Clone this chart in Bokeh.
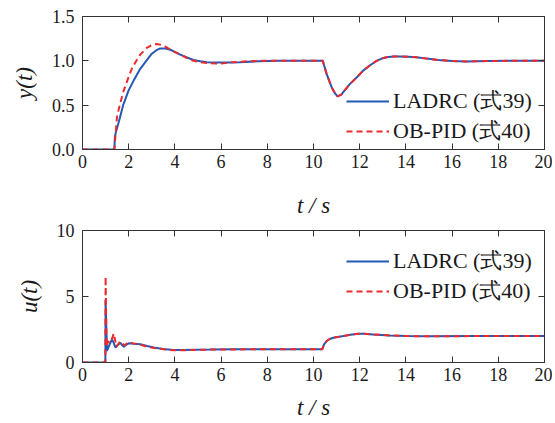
from bokeh.plotting import figure
from bokeh.models import Range1d, LinearAxis, FixedTicker, PrintfTickFormatter, Legend, LegendItem
from bokeh.layouts import column
from bokeh.embed import file_html
from bokeh.resources import INLINE

# ---------------- data ----------------
x_ticks = [0, 2, 4, 6, 8, 10, 12, 14, 16, 18, 20]
y_ticks_top = [0.0, 0.5, 1.0, 1.5]
y_ticks_bot = [0, 5, 10]

t_y_ladrc = [0, 1.38, 1.40, 1.45, 1.57, 1.76, 2.0, 2.22, 2.5, 2.76, 3.0, 3.2, 3.37, 3.6,
             3.8, 4.0, 4.23, 4.5, 4.8, 5.1, 5.38, 5.7, 5.96, 6.4, 6.8, 7.6, 8.5, 10.0,
             10.4, 10.57, 10.79, 10.94, 11.04, 11.2, 11.58, 11.9, 12.15, 12.45, 12.73,
             13.0, 13.16, 13.45, 13.74, 14.1, 14.46, 14.9, 15.4, 16.0, 16.6, 17.5, 18.5, 20]
y_ladrc = [0, 0, 0.14, 0.2, 0.31, 0.5, 0.67, 0.78, 0.91, 1.0, 1.08, 1.12, 1.14, 1.14,
           1.125, 1.10, 1.07, 1.04, 1.01, 0.995, 0.985, 0.98, 0.98, 0.982, 0.985, 0.995, 1.0, 1.0,
           1.0, 0.85, 0.70, 0.63, 0.60, 0.62, 0.74, 0.82, 0.89, 0.95, 1.0,
           1.03, 1.04, 1.048, 1.05, 1.047, 1.04, 1.025, 1.01, 0.997, 0.993, 0.997, 1.0, 1.0]

t_y_obpid = [0, 1.38, 1.40, 1.49, 1.61, 1.79, 2.0, 2.15, 2.33, 2.5, 2.65, 2.8, 2.94, 3.1,
             3.22, 3.4, 3.66, 3.9, 4.23, 4.5, 4.8, 5.1, 5.38, 5.8, 6.1, 6.5, 7.0, 7.6, 8.5,
             10.0, 10.4, 10.57, 10.79, 10.94, 11.04, 11.2, 11.58, 11.9, 12.15, 12.45, 12.73,
             13.0, 13.16, 13.45, 13.74, 14.1, 14.46, 14.9, 15.4, 16.0, 16.6, 17.5, 18.5, 20]
y_obpid = [0, 0, 0.07, 0.36, 0.5, 0.67, 0.82, 0.92, 1.0, 1.07, 1.11, 1.15, 1.17, 1.185,
           1.19, 1.18, 1.15, 1.11, 1.07, 1.035, 1.0, 0.985, 0.975, 0.97, 0.972, 0.985, 0.993, 1.0, 1.0,
           1.0, 1.0, 0.85, 0.70, 0.63, 0.60, 0.62, 0.74, 0.82, 0.89, 0.95, 1.0,
           1.03, 1.04, 1.048, 1.05, 1.047, 1.04, 1.025, 1.01, 0.997, 0.993, 0.997, 1.0, 1.0]

t_u_ladrc = [0, 0.99, 1.0, 1.06, 1.18, 1.28, 1.36, 1.43, 1.54, 1.64, 1.72, 1.79, 1.9, 2.0,
             2.2, 2.5, 2.8, 3.08, 3.5, 3.94, 4.4, 4.8, 5.5, 6.5, 8.0, 10.38, 10.45, 10.57,
             10.7, 10.86, 11.29, 11.6, 11.94, 12.2, 12.58, 13.3, 14.03, 15.0, 17.0, 20]
u_ladrc = [0, 0, 4.7, 0.88, 1.4, 1.75, 1.45, 1.13, 1.35, 1.5, 1.3, 1.2, 1.35, 1.45,
           1.42, 1.38, 1.25, 1.13, 1.02, 0.95, 0.95, 0.97, 0.98, 1.0, 1.0, 1.0, 1.35, 1.63,
           1.78, 1.88, 2.0, 2.1, 2.18, 2.18, 2.13, 2.05, 2.0, 1.99, 2.0, 2.0]

t_u_obpid = [0, 0.99, 1.0, 1.04, 1.1, 1.2, 1.3, 1.35, 1.4, 1.47, 1.55, 1.64, 1.72, 1.83,
             1.92, 2.0, 2.2, 2.5, 2.8, 3.1, 3.5, 3.94, 4.4, 5.0, 6.0, 8.0, 10.38, 10.45, 10.57,
             10.7, 10.86, 11.29, 11.6, 11.94, 12.2, 12.58, 13.3, 14.03, 15.0, 17.0, 20]
u_obpid = [0, 0, 6.5, 1.2, 1.6, 1.5, 1.9, 2.2, 1.8, 1.2, 1.4, 1.6, 1.45, 1.3,
           1.45, 1.55, 1.45, 1.35, 1.2, 1.1, 1.0, 0.93, 0.93, 0.96, 0.99, 1.0, 1.0, 1.35, 1.63,
           1.78, 1.88, 2.0, 2.1, 2.18, 2.18, 2.13, 2.05, 2.0, 1.99, 2.0, 2.0]

labels = ["LADRC (式39)", "OB-PID (式40)"]
x_title = "t / s"

# ---------------- styling ----------------
FONT = "Liberation Serif"
BLUE = "#2458b5"
RED = "#ec2a2e"
AX = "#333333"
TXT = "#1a1a1a"


def style_axis(ax, ticks, show_labels, fmt=None):
    ax.ticker = FixedTicker(ticks=ticks)
    ax.axis_line_color = AX
    ax.axis_line_width = 1
    ax.major_tick_line_color = AX
    ax.major_tick_in = 6
    ax.major_tick_out = 0
    ax.minor_tick_line_color = None
    if fmt is not None:
        ax.formatter = fmt
    if show_labels:
        ax.major_label_text_font = FONT
        ax.major_label_text_font_size = "18px"
        ax.major_label_text_color = TXT
    else:
        ax.major_label_text_font_size = "1px"
        ax.major_label_text_color = None
        ax.major_label_standoff = 0


def make_fig(height, y_end, yticks, btop, bbot, ylabel, fmt, xstandoff):
    p = figure(width=552, height=height, x_range=Range1d(0, 20), y_range=Range1d(0, y_end),
               output_backend="svg", toolbar_location=None,
               min_border_left=82, min_border_right=8, min_border_top=btop, min_border_bottom=bbot)
    p.grid.visible = False
    p.outline_line_color = AX
    p.background_fill_color = "white"
    xa = p.xaxis[0]
    style_axis(xa, x_ticks, True)
    xa.major_label_standoff = 5
    xa.axis_label = x_title
    xa.axis_label_text_font = FONT
    xa.axis_label_text_font_style = "italic"
    xa.axis_label_text_font_size = "23px"
    xa.axis_label_text_color = TXT
    xa.axis_label_standoff = xstandoff
    ya = p.yaxis[0]
    style_axis(ya, yticks, True, fmt)
    ya.major_label_standoff = 8
    ya.axis_label = ylabel
    ya.axis_label_text_font = FONT
    ya.axis_label_text_font_style = "italic"
    ya.axis_label_text_font_size = "23px"
    ya.axis_label_text_color = TXT
    ya.axis_label_standoff = 12
    top = LinearAxis()
    style_axis(top, x_ticks, False)
    p.add_layout(top, "above")
    right = LinearAxis()
    style_axis(right, yticks, False)
    p.add_layout(right, "right")
    return p


def add_legend(p, r1, r2, loc):
    lg = Legend(items=[LegendItem(label=labels[0], renderers=[r1]),
                       LegendItem(label=labels[1], renderers=[r2])],
                location=loc, glyph_width=43, glyph_height=24, label_height=24,
                label_standoff=4, spacing=0, padding=0, margin=0,
                border_line_color=None, background_fill_alpha=0,
                label_text_font=FONT, label_text_font_size="22px", label_text_color=TXT)
    p.add_layout(lg)


# top plot
p1 = make_fig(220, 1.5, y_ticks_top, 16, 70, "y(t)", PrintfTickFormatter(format="%.1f"), 22)
a1 = p1.line(t_y_ladrc, y_ladrc, line_color=BLUE, line_width=2)
b1 = p1.line(t_y_obpid, y_obpid, line_color=RED, line_width=2, line_dash="6 4")
add_legend(p1, a1, b1, (264, 3))

# bottom plot
p2 = make_fig(202, 10, y_ticks_bot, 10, 59, "u(t)", None, 11)
a2 = p2.line(t_u_ladrc, u_ladrc, line_color=BLUE, line_width=2)
b2 = p2.line(t_u_obpid, u_obpid, line_color=RED, line_width=2, line_dash="6 4")
add_legend(p2, a2, b2, (264, 56))

layout = column(p1, p2, spacing=0)
open("out.html", "w").write(file_html(layout, INLINE))
